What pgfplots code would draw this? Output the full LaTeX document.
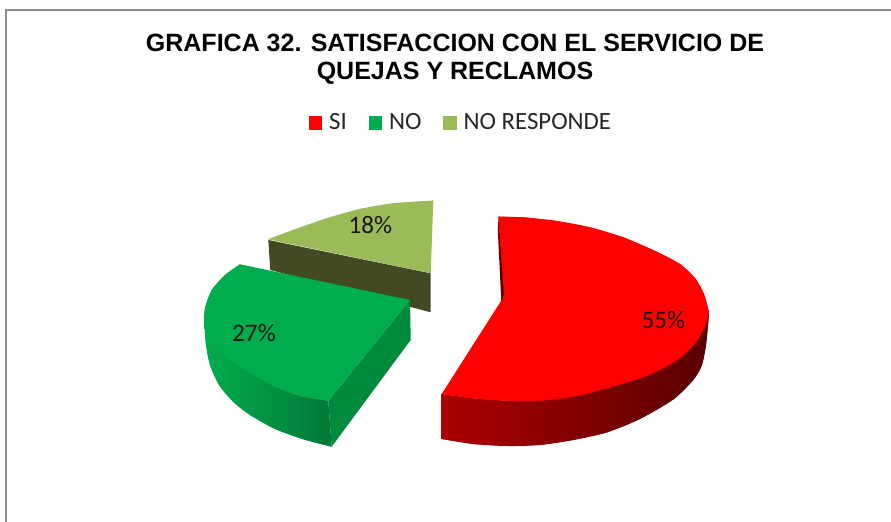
\documentclass[border=0pt]{standalone}
\usepackage{pgfplots}
\pgfplotsset{compat=1.18}
\usepackage{fontspec}
\setmainfont{Carlito}
\newfontfamily\titlefont{Liberation Sans}
\definecolor{cSI}{HTML}{FF0000}
\definecolor{cNO}{HTML}{00AC4E}
\definecolor{cNR}{HTML}{9BBB59}
\definecolor{cNRside}{HTML}{414A24}
\definecolor{cNOside}{HTML}{008A3E}
\begin{document}
\begin{tikzpicture}
\begin{axis}[
  scale only axis, width=445.5pt, height=261pt,
  xmin=0, xmax=891, ymin=0, ymax=522, y dir=reverse,
  hide axis, clip=true,
  legend columns=3,
  legend style={draw=none, fill=none, at={(axis cs:309,123)}, anchor=west, inner sep=0pt, outer sep=0pt,
    font=\fontsize{12.4}{14}\selectfont, text=black!85,
    /tikz/every even column/.append style={column sep=9pt}},
  legend cell align=left,
  legend image code/.code={\path (0pt,0pt) -- (8.1pt,0pt); \fill[#1] (0pt,-3.4pt) rectangle (6.7pt,3.4pt);},
  title={GRAFICA 32. SATISFACCION CON EL SERVICIO DE\\QUEJAS Y RECLAMOS},
  title style={align=center, at={(axis cs:455,46)}, anchor=north, inner sep=0pt,
    font=\titlefont\bfseries\fontsize{12.5}{13.85}\selectfont},
]
% frame
\addplot[forget plot, color=black!45, line width=1pt] coordinates {(6,522) (6,10) (891,10)};
% olive side
\addplot[forget plot, fill=cNRside, draw=none] coordinates {(268.3,240) (430.7,273.3) (430.7,312.3) (270.3,270)} -- cycle;
% red inner sliver
\addplot[forget plot, fill=red!35!black, draw=none] coordinates {(498.5,217) (504.7,296) (501.3,301.7) (497.8,230)} -- cycle;
% red side: band, then its smooth lower edge
\addplot[forget plot, left color=red!67!black, middle color=red!36!black, right color=red!35!black, draw=none] coordinates {(441.7,394) (441.7,439) (473.3,444) (506.7,446) (540,445) (573.3,440) (606.7,432.5) (640,419) (673.3,399.5) (693.3,380) (702,365) (706,345) (708,325) (709,312) (705,327) (695,343.5) (680,358) (663,368.5) (640,378.3) (606.7,388.3) (573.3,396.7) (540,400.7) (506.7,400.7) (473.3,398.3)} -- cycle;
\addplot[forget plot, smooth, left color=red!67!black, middle color=red!36!black, right color=red!35!black, draw=none] coordinates {(441.7,439) (473.3,444) (506.7,446) (540,445) (573.3,440) (606.7,432.5) (640,419) (673.3,399.5) (693.3,380) (702,365) (706,345) (708,325) (709,312)} -- cycle;
% red top
\addplot[fill=cSI, draw=none] coordinates {(498.3,216.7) (523.3,217.3) (556.7,221) (590,227.3) (623.3,237.3) (656.7,251.7) (680,264) (695,278) (704,294) (709,312) (705,327) (695,343.5) (680,358) (663,368.5) (640,378.3) (606.7,388.3) (573.3,396.7) (540,400.7) (506.7,400.7) (473.3,398.3) (441.7,394) (501.7,300) (504,295)} -- cycle;
\addlegendentry{SI}
\addplot[forget plot, smooth, fill=cSI, draw=none] coordinates {(498.3,216.7) (523.3,217.3) (556.7,221) (590,227.3) (623.3,237.3) (656.7,251.7) (680,264) (695,278) (704,294) (709,312)} -- cycle;
\addplot[forget plot, smooth, fill=cSI, draw=none] coordinates {(709,312) (705,327) (695,343.5) (680,358) (663,368.5) (640,378.3) (606.7,388.3) (573.3,396.7) (540,400.7) (506.7,400.7) (473.3,398.3) (441.7,394)} -- cycle;
% green sides
\addplot[forget plot, fill=cNOside, draw=none] coordinates {(410,300) (410.7,340) (331.7,446.7) (328.3,400.7)} -- cycle;
\addplot[forget plot, left color=cNO, right color=cNO!70!black, draw=none] coordinates {(328.3,400.7) (331.7,446.7) (303.3,439.3) (275,429) (250,415) (233.3,402) (219,385) (210,365) (206,345) (204.3,322) (208.3,338.3) (221.7,353) (241.7,368) (275,386.7) (300,396)} -- cycle;
\addplot[forget plot, smooth, left color=cNO, right color=cNO!70!black, draw=none] coordinates {(331.7,446.7) (303.3,439.3) (275,429) (250,415) (233.3,402) (219,385) (210,365) (206,345) (204.3,322)} -- cycle;
% green top
\addplot[fill=cNO, draw=none] coordinates {(240,264.3) (410,300) (328.3,400.7) (300,396) (275,386.7) (241.7,368) (221.7,353) (208.3,338.3) (204.3,321.7) (205,308) (211.7,290) (225,275)} -- cycle;
\addlegendentry{NO}
\addplot[forget plot, smooth, fill=cNO, draw=none] coordinates {(328.3,400.7) (300,396) (275,386.7) (241.7,368) (221.7,353) (208.3,338.3) (204.3,321.7) (205,308) (211.7,290) (225,275) (240,264.3)} -- cycle;
% olive top
\addplot[fill=cNR, draw=none] coordinates {(433.3,200.7) (393.3,203.3) (360,209) (326.7,218.3) (293.3,230) (268.3,239.3) (430.7,273.3)} -- cycle;
\addlegendentry{NO RESPONDE}
\addplot[forget plot, smooth, fill=cNR, draw=none] coordinates {(433.3,200.7) (393.3,203.3) (360,209) (326.7,218.3) (293.3,230) (268.3,239.3)} -- cycle;
\node[font=\fontsize{12.6}{14}\selectfont, text=black!90] at (axis cs:370.3,225) {18\%};
\node[font=\fontsize{12.6}{14}\selectfont, text=black!90] at (axis cs:254,332.7) {27\%};
\node[font=\fontsize{12.6}{14}\selectfont, text=black!90] at (axis cs:663.3,320) {55\%};
\end{axis}
\useasboundingbox (0,0) rectangle (445.5pt,261pt);
\end{tikzpicture}
\end{document}
